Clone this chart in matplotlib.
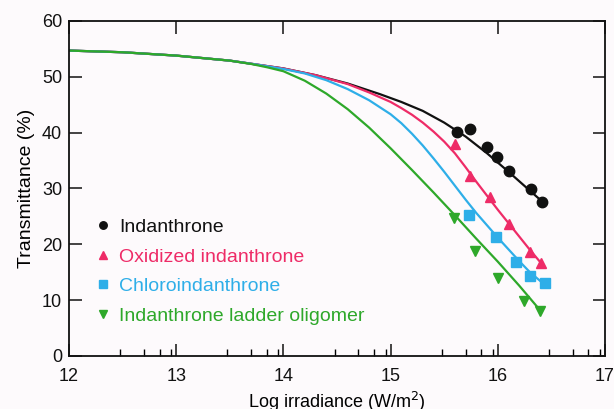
import matplotlib
matplotlib.use("Agg")
import matplotlib.pyplot as plt
from matplotlib.ticker import FixedLocator
import numpy as np

plt.rcParams['font.family'] = ['Liberation Sans', 'DejaVu Sans']

# measured points (log irradiance, transmittance %)
ind_x = [15.62, 15.74, 15.90, 15.99, 16.10, 16.31, 16.41]
ind_y = [40.2, 40.7, 37.4, 35.7, 33.1, 29.9, 27.6]
oxi_x = [15.60, 15.74, 15.93, 16.10, 16.30, 16.40]
oxi_y = [38.0, 32.2, 28.4, 23.6, 18.7, 16.6]
chl_x = [15.73, 15.98, 16.17, 16.30, 16.44]
chl_y = [25.3, 21.4, 16.8, 14.3, 13.0]
lad_x = [15.59, 15.79, 16.00, 16.24, 16.39]
lad_y = [24.7, 18.8, 13.9, 9.9, 8.1]

# fitted curves
ind_cx = [12.0, 12.5, 13.0, 13.5, 13.75, 14.0, 14.3, 14.6, 14.9, 15.1, 15.3, 15.5, 15.7, 15.9, 16.1, 16.3, 16.43]
ind_cy = [54.7, 54.4, 53.8, 52.9, 52.2, 51.5, 50.3, 48.8, 46.9, 45.5, 43.9, 41.8, 39.3, 36.3, 33.0, 29.6, 27.4]
oxi_cx = [12.0, 12.5, 13.0, 13.5, 13.75, 14.0, 14.3, 14.6, 14.8, 15.0, 15.1, 15.2, 15.3, 15.4,
          15.5, 15.6, 15.7, 15.8, 15.9, 16.0, 16.1, 16.2, 16.3, 16.41]
oxi_cy = [54.7, 54.4, 53.8, 52.9, 52.2, 51.5, 50.3, 48.7, 47.2, 45.5, 44.4, 43.2, 41.8, 40.2,
          38.4, 36.3, 33.8, 31.2, 28.7, 26.2, 23.8, 21.4, 19.0, 16.5]
chl_cx = [12.0, 12.5, 13.0, 13.5, 13.75, 14.0, 14.2, 14.4, 14.6, 14.8, 15.0, 15.1, 15.2, 15.3, 15.4,
          15.5, 15.6, 15.7, 15.8, 15.9, 16.0, 16.1, 16.2, 16.3, 16.46]
chl_cy = [54.7, 54.4, 53.8, 52.9, 52.2, 51.4, 50.6, 49.4, 47.8, 45.8, 43.3, 41.7, 39.8, 37.7, 35.4,
          33.0, 30.5, 28.0, 25.6, 23.4, 21.2, 19.1, 17.0, 15.0, 12.4]
lad_cx = [12.0, 12.5, 13.0, 13.5, 13.7, 13.85, 14.0, 14.2, 14.4, 14.6, 14.8, 15.0, 15.2, 15.4, 15.6,
          15.8, 16.0, 16.2, 16.39]
lad_cy = [54.7, 54.4, 53.8, 52.9, 52.3, 51.7, 51.0, 49.3, 47.0, 44.2, 40.9, 37.2, 33.3, 29.3, 25.2,
          21.0, 16.9, 12.6, 8.3]

labels = ['Indanthrone', 'Oxidized indanthrone', 'Chloroindanthrone', 'Indanthrone ladder oligomer']
colors = ['#111111', '#ee2b67', '#2eaee8', '#2ea82a']

bg = '#fdfafc'
fig = plt.figure(figsize=(6.14, 4.09), dpi=100, facecolor=bg)
ax = fig.add_axes([0.1124, 0.1296, 0.8729, 0.8191], facecolor=bg)

# curves
ax.plot(ind_cx, ind_cy, color=colors[0], lw=1.6, zorder=2, solid_joinstyle='round')
ax.plot(oxi_cx, oxi_cy, color=colors[1], lw=1.6, zorder=2, solid_joinstyle='round')
ax.plot(chl_cx, chl_cy, color=colors[2], lw=1.6, zorder=2, solid_joinstyle='round')
ax.plot(lad_cx, lad_cy, color=colors[3], lw=1.6, zorder=2, solid_joinstyle='round')

# points
h1, = ax.plot(ind_x, ind_y, 'o', color=colors[0], ms=7.5, ls='none', zorder=3)
h2, = ax.plot(oxi_x, oxi_y, '^', color=colors[1], ms=7.5, ls='none', zorder=3)
h3, = ax.plot(chl_x, chl_y, 's', color=colors[2], ms=7.5, ls='none', zorder=3)
h4, = ax.plot(lad_x, lad_y, 'v', color=colors[3], ms=7.5, ls='none', zorder=3)

leg = ax.legend([h1, h2, h3, h4], labels, loc='upper left', bbox_to_anchor=(0.035, 0.44),
                frameon=False, fontsize=14, markerscale=0.72, handlelength=0.55,
                handletextpad=0.55, labelspacing=0.62, borderpad=0)
for t, c in zip(leg.get_texts(), colors):
    t.set_color(c)

ax.set_xlim(12, 17)
ax.set_ylim(0, 60)
ax.set_xticks([12, 13, 14, 15, 16, 17])
ax.set_yticks([0, 10, 20, 30, 40, 50, 60])
minor = []
for n in range(12, 17):
    for k in [3, 5, 7, 9]:
        minor.append(n + np.log10(k))
ax.xaxis.set_minor_locator(FixedLocator(minor))

ax.tick_params(which='major', direction='in', length=9, width=1.1, labelsize=13,
               top=True, right=True, colors='#111111')
ax.tick_params(axis='x', which='major', pad=9)
ax.tick_params(axis='y', which='major', pad=5)
ax.tick_params(axis='x', which='minor', direction='in', length=5, width=1.0,
               top=False, bottom=True)
for s in ax.spines.values():
    s.set_linewidth(1.3)
    s.set_color('#111111')

ax.set_xlabel('Log irradiance (W/m$^2$)', fontsize=13, labelpad=3)
ax.set_ylabel('Transmittance (%)', fontsize=14, labelpad=5)

fig.savefig('out.png', dpi=100, facecolor=bg)
